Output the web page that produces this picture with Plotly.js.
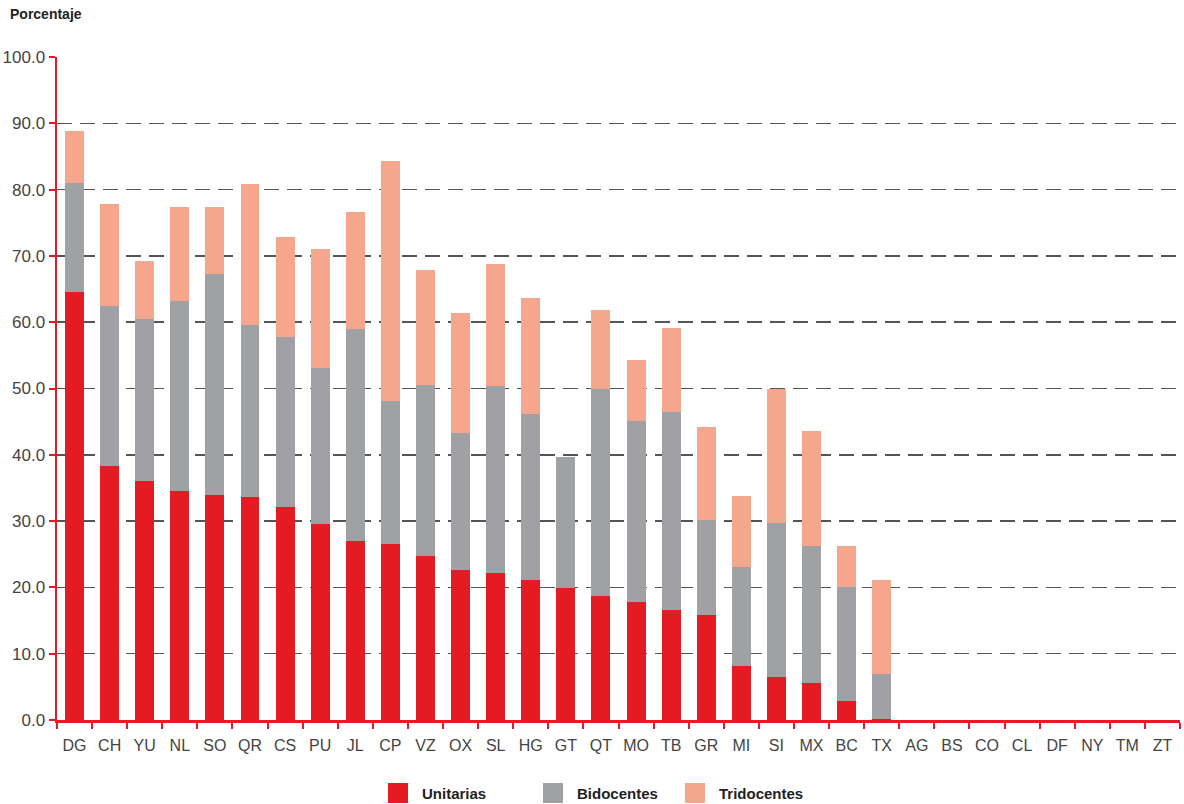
<!DOCTYPE html>
<html>
<head>
<meta charset="utf-8">
<script src="https://cdn.plot.ly/plotly-3.0.1.min.js"></script>
<style>html,body{margin:0;padding:0;background:#fff;}#chart{width:1184px;height:804px;}</style>
</head>
<body>
<div id="chart"></div>
<script>
const estados = ["DG","CH","YU","NL","SO","QR","CS","PU","JL","CP","VZ","OX","SL","HG","GT","QT","MO","TB","GR","MI","SI","MX","BC","TX","AG","BS","CO","CL","DF","NY","TM","ZT"];
const unitarias = [64.6,38.3,36.0,34.5,33.9,33.6,32.2,29.5,27.0,26.5,24.7,22.6,22.1,21.1,19.9,18.7,17.8,16.6,15.8,8.1,6.5,5.6,2.9,0.1,0,0,0,0,0,0,0,0];
const bidocentes = [16.4,24.1,24.5,28.7,33.4,26.0,25.6,23.6,32.0,21.6,25.8,20.7,28.3,25.1,19.8,31.2,27.3,29.9,14.4,15.0,23.2,20.6,17.2,6.8,0,0,0,0,0,0,0,0];
const tridocentes = [7.8,15.4,8.7,14.2,10.1,21.2,15.0,17.9,17.6,36.2,17.4,18.1,18.4,17.4,0,11.9,9.2,12.6,14.0,10.7,20.2,17.4,6.1,14.2,0,0,0,0,0,0,0,0];
const tickVals = [0,10,20,30,40,50,60,70,80,90,100];
const seriesNames = ["Unitarias","Bidocentes","Tridocentes"];

const rojo = "#E41B23", gris = "#A0A1A5", salmon = "#F4A78C";
const colores = [rojo, gris, salmon];
const datos = [unitarias, bidocentes, tridocentes];
const traces = datos.map((d,i)=>({type:"bar", name:seriesNames[i], x:estados, y:d, marker:{color:colores[i]}, showlegend:false}));

// manual legend (layout decoration, paper coordinates)
const W = 1123, H = 663, L = 57, T = 57;
const px = x => (x - L) / W;
const py = y => 1 - (y - T) / H;
const legX = [388, 543, 685];
const shapes = [], annotations = [];
legX.forEach((x,i)=>{
  shapes.push({type:"rect", xref:"paper", yref:"paper", x0:px(x), x1:px(x+20), y0:py(803), y1:py(783),
               fillcolor:colores[i], line:{width:0}, layer:"above"});
  annotations.push({text:"<b>"+seriesNames[i]+"</b>", xref:"paper", yref:"paper", x:px(x+32), y:py(793),
                    xanchor:"left", yanchor:"middle", showarrow:false, font:{size:15, color:"#222"}});
});
annotations.push({text:"<b>Porcentaje</b>", xref:"paper", yref:"paper", x:px(8), y:py(14),
                  xanchor:"left", yanchor:"middle", showarrow:false, font:{size:14, color:"#222"}});

const layout = {
  width:1184, height:804,
  margin:{l:57, r:4, t:57, b:84},
  paper_bgcolor:"#fff", plot_bgcolor:"#fff",
  barmode:"stack", bargap:0.46,
  font:{family:"Liberation Sans, Arial, sans-serif", color:"#444"},
  showlegend:false,
  xaxis:{type:"category", showline:true, linecolor:rojo, linewidth:2.5, automargin:false,
         ticks:"outside", tickcolor:rojo, ticklen:6, tickwidth:2, tickson:"boundaries", tickangle:0,
         ticklabelstandoff:9,
         tickfont:{size:16, color:"#444"}, showgrid:false, zeroline:false, fixedrange:true},
  yaxis:{range:[0,100], tickvals:tickVals, tickformat:".1f", showline:true, linecolor:rojo, linewidth:2.5, automargin:false,
         ticks:"outside", tickcolor:rojo, ticklen:6, tickwidth:2,
         tickfont:{size:17, color:"#444"},
         showgrid:true, gridcolor:"#555", gridwidth:1.5, griddash:"15px,8px", zeroline:false, fixedrange:true},
  shapes:shapes,
  annotations:annotations
};
Plotly.newPlot("chart", traces, layout, {displayModeBar:false, staticPlot:true});
</script>
</body>
</html>
